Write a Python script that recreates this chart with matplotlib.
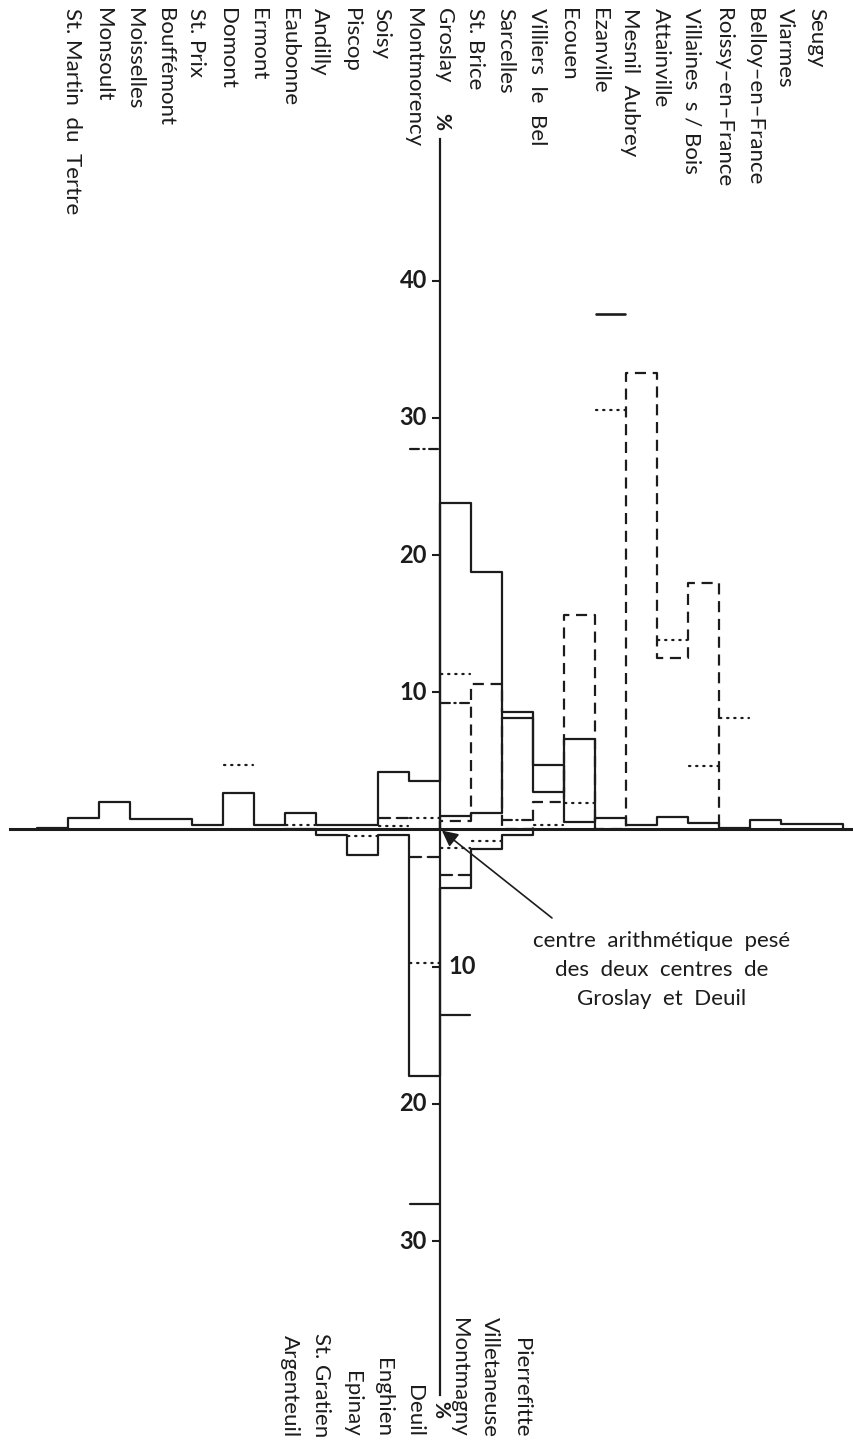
import numpy as np
import matplotlib
matplotlib.use("Agg")
import matplotlib.pyplot as plt

n = np.nan

# communes au-dessus de l'axe (attraction de Groslay), de gauche a droite
top_names = ["", "St. Martin  du  Tertre", "Monsoult", "Moisselles", "Bouffémont",
             "St. Prix", "Domont", "Ermont", "Eaubonne", "Andilly", "Piscop", "Soisy",
             "Montmorency", "Groslay", "St. Brice", "Sarcelles", "Villiers  le  Bel",
             "Ecouen", "Ezanville", "Mesnil  Aubrey", "Attainville", "Villaines  s / Bois",
             "Roissy–en–France", "Belloy–en–France", "Viarmes", "Seugy"]
top_solid = [0.1, 0.82, 1.98, 0.77, 0.77, 0.33, 2.65, 0.33, 1.18, 0.33, 0.33, 4.19, 3.56,
             23.8, 18.8, 8.54, 4.70, 0.53, 0.87, 0.33, 0.89, 0.47, 0.11, 0.69, 0.40, 0.40]
top_solid2 = [n] * 13 + [0.98, 1.18, 8.15, 2.76, 6.57] + [n] * 8
top_dashed = [n] * 13 + [0.62, 10.58, 0, 2.03, 15.63, 0, 33.25, 12.48, 17.94] + [n] * 4
# traits isoles
top_dotted = [n, n, n, n, n, n, 4.7, n, 0.33, n, n, 0.27, 0.85,
              11.33, n, n, 0.33, 1.93, 30.6, n, 13.81, 4.6, 8.1, n, n, n]
top_dashdot = [n] * 12 + [27.7, 9.2, n, 0.7] + [n] * 10
top_dash_mark = [n] * 11 + [0.85] + [n] * 14
top_solid_mark = [n] * 18 + [37.6] + [n] * 7

# communes sous l'axe (attraction de Deuil)
bottom_names = ["Argenteuil", "St. Gratien", "Epinay", "Enghien", "Deuil",
                "Montmagny", "Villetaneuse", "Pierrefitte"]
bottom_solid = [0, -0.40, -1.86, -0.40, -17.97, -4.30, -1.44, -0.40]
bottom_dashed = [n, n, n, n, -2.03, -3.32, n, n]
bottom_dotted = [n, n, -0.47, n, -9.75, -1.33, -0.82, n]
bottom_solid_mark = [n, n, n, n, -27.3, -13.52, n, n]

up_ticks = [10, 20, 30, 40]
down_ticks = [10, 20, 30]

ink = "#1c1c1c"
plt.rcParams['font.family'] = ['Lato', 'DejaVu Sans']

DASHED = (0, (5, 3))
DOTTED = (0, (0.6, 2.6))
DASHDOT = (0, (4, 2, 0.6, 2))


def outline(ax, start, vals, ls, lw=1.6):
    # contour en escalier, ferme sur la ligne de base
    vals = np.asarray(vals, float)
    xs, ys = [], []
    for i, v in enumerate(vals):
        if np.isnan(v):
            if xs:
                ax.plot(xs + [xs[-1]], ys + [0], color=ink, lw=lw, ls=ls)
                xs, ys = [], []
            continue
        if not xs:
            xs, ys = [start + i], [0]
        xs += [start + i, start + i + 1]
        ys += [v, v]
    if xs:
        ax.plot(xs + [xs[-1]], ys + [0], color=ink, lw=lw, ls=ls)


def marks(ax, start, vals, ls, lw=1.6):
    vals = np.asarray(vals, float)
    left = start + np.arange(len(vals))
    ok = ~np.isnan(vals)
    ax.hlines(vals[ok], left[ok] + 0.04, left[ok] + 0.96, colors=ink,
              linestyles=ls, lw=lw, capstyle='round')


fig = plt.figure(figsize=(8.54, 14.43), dpi=100)
ax = fig.add_axes([0, 0, 1, 1])
ax.set_xlim(-14.19, 13.35)
ax.set_ylim(-44.72, 60.46)
ax.axis('off')

top_start = -13
bot_start = -5

outline(ax, top_start, top_solid, '-')
outline(ax, top_start, top_solid2, '-')
outline(ax, top_start, top_dashed, DASHED)
marks(ax, top_start, top_dotted, DOTTED)
marks(ax, top_start, top_dashdot, DASHDOT)
marks(ax, top_start, top_dash_mark, DASHED)
marks(ax, top_start, top_solid_mark, '-', lw=1.9)

outline(ax, bot_start, bottom_solid, '-')
marks(ax, bot_start, bottom_dashed, DASHED)
marks(ax, bot_start, bottom_dotted, DOTTED)
marks(ax, bot_start, bottom_solid_mark, '-')

# axes
ax.plot([-13.87, 13.35], [0, 0], color=ink, lw=2.2)
ax.plot([0, 0], [-41.2, 50.3], color=ink, lw=1.6)
ax.hlines(up_ticks, -0.27, 0, colors=ink, lw=1.5)
ax.hlines([-t for t in down_ticks], -0.27, 0, colors=ink, lw=1.5)
for t in up_ticks:
    ax.text(-0.42, t, str(t), ha='right', va='center', fontsize=17,
            fontweight='bold', color=ink)
for t in down_ticks:
    if t == 10:
        ax.text(0.26, -t, str(t), ha='left', va='center', fontsize=17,
                fontweight='bold', color=ink)
    else:
        ax.text(-0.42, -t, str(t), ha='right', va='center', fontsize=17,
                fontweight='bold', color=ink)
ax.text(0.05, 51.6, "%", rotation=-90, ha='center', va='center', fontsize=15,
        fontweight='bold', color=ink)
ax.text(0.0, -42.3, "%", rotation=-90, ha='center', va='center', fontsize=15,
        fontweight='bold', color=ink)

# noms des communes
for i, name in enumerate(top_names):
    ax.text(top_start + i + 0.5 - 0.38, 59.9, name, rotation=-90,
            ha='center', va='top', fontsize=16, color=ink)
for i, name in enumerate(bottom_names):
    x = bot_start + i + 0.5 + (-0.35 if bot_start + i < 0 else 0.1)
    ax.text(x, -44.3, name, rotation=-90, ha='center', va='bottom',
            fontsize=16, color=ink)

ax.annotate("", xy=(0.06, -0.08), xytext=(3.61, -6.45),
            arrowprops=dict(arrowstyle='-|>', color=ink, lw=1.2,
                            mutation_scale=24, shrinkA=0, shrinkB=0))
ax.text(7.16, -10.24, "centre  arithmétique  pesé\ndes  deux  centres  de\nGroslay  et  Deuil",
        ha='center', va='center', fontsize=16, color=ink, linespacing=1.55)

fig.savefig("out.png", dpi=100)
